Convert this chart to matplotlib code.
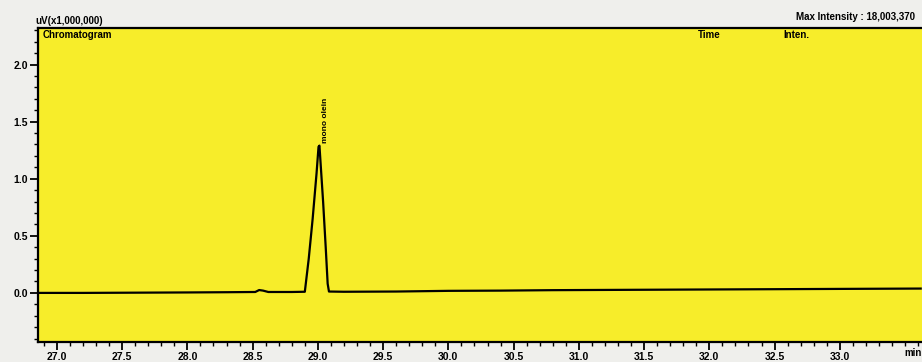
import matplotlib
matplotlib.use("Agg")
import matplotlib.pyplot as plt
from matplotlib.ticker import MultipleLocator, FormatStrFormatter

# Chromatogram trace (time in min, intensity in uV x 1,000,000)
time_min = [26.85, 27.20, 27.60, 28.00, 28.30, 28.52, 28.55, 28.58, 28.62, 28.80,
            28.90, 28.93, 28.96, 28.99, 29.005, 29.012, 29.02, 29.04, 29.06, 29.075,
            29.085, 29.20, 29.60, 30.00, 30.40, 30.80, 31.20, 31.60, 32.00,
            32.40, 32.80, 33.20, 33.62]
intensity = [0.000, 0.000, 0.002, 0.004, 0.006, 0.008, 0.025, 0.020, 0.008, 0.008,
             0.010, 0.300, 0.650, 1.050, 1.280, 1.290, 1.150, 0.800, 0.400, 0.080,
             0.012, 0.010, 0.012, 0.018, 0.020, 0.024, 0.026, 0.028, 0.030,
             0.032, 0.034, 0.036, 0.038]

peak_time = 29.012
peak_height = 1.29
peak_name = "mono olein"

y_ticks = [0.0, 0.5, 1.0, 1.5, 2.0]
x_ticks = [27.0, 27.5, 28.0, 28.5, 29.0, 29.5, 30.0, 30.5, 31.0, 31.5, 32.0, 32.5, 33.0]

plt.rcParams['font.family'] = ['Liberation Sans', 'DejaVu Sans']
plt.rcParams['font.weight'] = 'bold'

fig = plt.figure(figsize=(9.22, 3.62), dpi=100, facecolor='#efefec')
ax = fig.add_axes([38/922, 1 - 342/362, 884/922, 314/362])
ax.set_facecolor('#f7ed2a')

ax.plot(time_min, intensity, color='black', lw=1.6)

ax.set_xlim(26.855, 33.63)
ax.set_ylim(-0.43, 2.32)

ax.set_xticks(x_ticks)
ax.set_yticks(y_ticks)
ax.xaxis.set_major_formatter(FormatStrFormatter('%.1f'))
ax.yaxis.set_major_formatter(FormatStrFormatter('%.1f'))
ax.xaxis.set_minor_locator(MultipleLocator(0.1))
ax.yaxis.set_minor_locator(MultipleLocator(0.1))
ax.tick_params(which='major', length=6, width=1.3, labelsize=7.5, direction='out', pad=1)
ax.tick_params(which='minor', length=3, width=1.0, direction='out')
for lab in ax.get_xticklabels() + ax.get_yticklabels():
    lab.set_fontweight('bold')

for side in ['left', 'bottom', 'top']:
    ax.spines[side].set_linewidth(1.6)
ax.spines['right'].set_visible(False)

# peak label
ax.text(peak_time + 0.045, peak_height + 0.02, peak_name, rotation=90,
        fontsize=6, ha='center', va='bottom', fontweight='bold')

# header texts
ax.text(0.005, 0.995, "Chromatogram", transform=ax.transAxes, fontsize=7,
        ha='left', va='top', fontweight='bold')
ax.text(0.747, 0.995, "Time", transform=ax.transAxes, fontsize=7,
        ha='left', va='top', fontweight='bold')
ax.text(0.843, 0.995, "Inten.", transform=ax.transAxes, fontsize=7,
        ha='left', va='top', fontweight='bold')
fig.text(35/922, 1 - 21/362, "uV(x1,000,000)", fontsize=7, ha='left',
         va='center', fontweight='bold')
fig.text(915/922, 1 - 17/362, "Max Intensity : 18,003,370", fontsize=7,
         ha='right', va='center', fontweight='bold')
fig.text(913/922, 1 - 353/362, "min", fontsize=7, ha='center', va='center',
         fontweight='bold')

fig.savefig("out.png", dpi=100, facecolor=fig.get_facecolor())
